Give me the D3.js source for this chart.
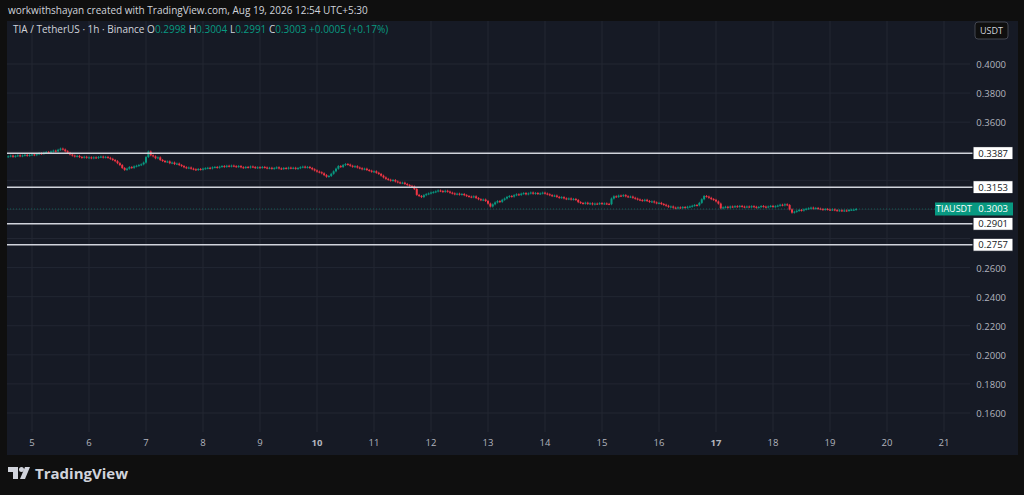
<!DOCTYPE html>
<html><head><meta charset="utf-8">
<script src="https://cdn.jsdelivr.net/npm/d3@7"></script>
<style>
body{margin:0;background:#0f0f0f;font-family:"Open Sans",sans-serif;}
</style></head><body>
<svg id="c" width="1024" height="495"></svg>
<script>
// hourly closes, Aug 4 14:00 -> Aug 19 12:00 (each row = 12 hours)
var closes = [
0.3365,0.3370,0.3362,0.3368,0.3372,0.3366,0.3371,0.3375,0.3369,0.3374,0.3378,0.3373,
0.3380,0.3386,0.3382,0.3390,0.3395,0.3391,0.3398,0.3404,0.3399,0.3410,0.3418,0.3412,
0.3400,0.3389,0.3378,0.3370,0.3364,0.3368,0.3360,0.3356,0.3362,0.3355,0.3358,0.3352,
0.3358,0.3354,0.3360,0.3363,0.3357,0.3361,0.3355,0.3348,0.3340,0.3332,0.3318,0.3305,
0.3285,0.3272,0.3280,0.3291,0.3286,0.3296,0.3300,0.3305,0.3310,0.3322,0.3360,0.3398,
0.3372,0.3365,0.3352,0.3358,0.3340,0.3333,0.3326,0.3330,0.3318,0.3322,0.3312,0.3315,
0.3305,0.3298,0.3290,0.3284,0.3288,0.3280,0.3276,0.3271,0.3278,0.3274,0.3280,0.3283,
0.3286,0.3282,0.3289,0.3292,0.3287,0.3294,0.3298,0.3293,0.3300,0.3296,0.3301,0.3297,
0.3293,0.3298,0.3290,0.3286,0.3292,0.3288,0.3295,0.3291,0.3285,0.3290,0.3287,0.3292,
0.3288,0.3283,0.3286,0.3280,0.3284,0.3289,0.3282,0.3278,0.3285,0.3281,0.3287,0.3283,
0.3286,0.3280,0.3284,0.3290,0.3294,0.3288,0.3292,0.3285,0.3276,0.3268,0.3260,0.3255,
0.3248,0.3236,0.3225,0.3230,0.3245,0.3262,0.3280,0.3298,0.3292,0.3305,0.3312,0.3308,
0.3300,0.3293,0.3297,0.3288,0.3283,0.3276,0.3280,0.3271,0.3266,0.3259,0.3262,0.3252,
0.3244,0.3232,0.3220,0.3210,0.3204,0.3198,0.3202,0.3192,0.3186,0.3181,0.3184,0.3175,
0.3168,0.3162,0.3158,0.3140,0.3100,0.3092,0.3085,0.3098,0.3105,0.3110,0.3116,0.3119,
0.3124,0.3130,0.3126,0.3121,0.3128,0.3122,0.3115,0.3110,0.3104,0.3108,0.3102,0.3106,
0.3098,0.3092,0.3088,0.3084,0.3090,0.3078,0.3070,0.3064,0.3068,0.3058,0.3040,0.3020,
0.3035,0.3048,0.3057,0.3052,0.3066,0.3075,0.3086,0.3092,0.3088,0.3098,0.3104,0.3100,
0.3108,0.3112,0.3104,0.3110,0.3116,0.3108,0.3113,0.3106,0.3110,0.3115,0.3109,0.3104,
0.3098,0.3092,0.3095,0.3086,0.3080,0.3084,0.3076,0.3071,0.3075,0.3068,0.3072,0.3065,
0.3050,0.3044,0.3040,0.3046,0.3038,0.3042,0.3035,0.3040,0.3037,0.3043,0.3039,0.3041,
0.3038,0.3036,0.3075,0.3090,0.3086,0.3095,0.3092,0.3098,0.3090,0.3085,0.3088,0.3080,
0.3074,0.3068,0.3064,0.3060,0.3066,0.3058,0.3052,0.3055,0.3048,0.3042,0.3045,0.3037,
0.3032,0.3025,0.3018,0.3020,0.3012,0.3008,0.3014,0.3010,0.3016,0.3012,0.3018,0.3020,
0.3025,0.3030,0.3028,0.3045,0.3070,0.3092,0.3088,0.3080,0.3071,0.3066,0.3055,0.3040,
0.3008,0.3014,0.3018,0.3012,0.3020,0.3016,0.3022,0.3018,0.3024,0.3019,0.3015,0.3020,
0.3016,0.3022,0.3018,0.3012,0.3017,0.3023,0.3019,0.3014,0.3020,0.3024,0.3018,0.3022,
0.3026,0.3032,0.3028,0.3035,0.3030,0.3000,0.2978,0.2984,0.2990,0.2996,0.2992,0.3000,
0.3004,0.3008,0.3012,0.3006,0.3010,0.3005,0.3002,0.2998,0.3003,0.2999,0.2996,0.3000,
0.2995,0.2991,0.2994,0.2989,0.2993,0.2990,0.2996,0.2998,0.2998,0.3003
];
var firstOpen = 0.3362;
var levels = [0.3387, 0.3153, 0.2901, 0.2757];
var priceTicks = [0.16,0.18,0.20,0.22,0.24,0.26,0.28,0.30,0.32,0.34,0.36,0.38,0.40];
var dayTicks = d3.range(5, 22);
var lastPrice = 0.3003;

var svg = d3.select("#c");
var L = 7, R = 970, T = 21, B = 432;
var up = "#089981", dn = "#f23645";

var t0 = Date.UTC(2026, 7, 4, 14);
var x = d3.scaleUtc().domain([Date.UTC(2026,7,5), Date.UTC(2026,7,21)]).range([32, 944]);
var y = d3.scaleLinear().domain([0.16, 0.40]).range([413, 64]);

svg.append("rect").attr("x", L).attr("y", T).attr("width", 1018 - L).attr("height", 455 - T).attr("fill", "#161a25");

svg.append("text").attr("x", 8).attr("y", 14).attr("fill", "#d1d4dc").attr("font-size", 10)
  .text("workwithshayan created with TradingView.com, Aug 19, 2026 12:54 UTC+5:30");

var g = svg.append("g");
g.selectAll(".hg").data(priceTicks).enter().append("line")
  .attr("x1", L).attr("x2", R).attr("y1", d => y(d)).attr("y2", d => y(d))
  .attr("stroke", "#222632").attr("stroke-width", 1);
g.selectAll(".vg").data(dayTicks).enter().append("line")
  .attr("x1", d => x(Date.UTC(2026,7,d))).attr("x2", d => x(Date.UTC(2026,7,d)))
  .attr("y1", T).attr("y2", B).attr("stroke", "#222632");

// price axis labels (those hidden behind level boxes are skipped)
var shown = priceTicks.filter(p => !levels.some(l => Math.abs(y(p) - y(l)) < 10));
svg.selectAll(".pl").data(shown).enter().append("text")
  .attr("x", 1006).attr("y", d => y(d) + 4).attr("text-anchor", "end")
  .attr("fill", "#b2b5be").attr("font-size", 9.5).text(d => d.toFixed(4));

// time axis labels
svg.selectAll(".tl").data(dayTicks).enter().append("text")
  .attr("x", d => x(Date.UTC(2026,7,d))).attr("y", 446).attr("text-anchor", "middle")
  .attr("fill", "#b2b5be").attr("font-size", 9.5)
  .attr("font-weight", d => (d == 10 || d == 17) ? "bold" : "normal").text(d => d);

// candles
var bars = closes.map(function(c, i) {
  var o = i ? closes[i - 1] : firstOpen;
  return {t: t0 + i * 3600e3, o: o, c: c, h: Math.max(o, c) + 0.0007, l: Math.min(o, c) - 0.0007};
});
var cg = svg.append("g");
cg.selectAll("line").data(bars).enter().append("line")
  .attr("x1", d => x(d.t)).attr("x2", d => x(d.t))
  .attr("y1", d => y(d.h)).attr("y2", d => y(d.l))
  .attr("stroke", d => d.c >= d.o ? up : dn).attr("stroke-width", 0.8);
cg.selectAll("rect").data(bars).enter().append("rect")
  .attr("x", d => x(d.t) - 1).attr("width", 2)
  .attr("y", d => y(Math.max(d.o, d.c)))
  .attr("height", d => Math.max(1, Math.abs(y(d.o) - y(d.c))))
  .attr("fill", d => d.c >= d.o ? up : dn);

// current price line
svg.append("line").attr("x1", L).attr("x2", R).attr("y1", y(lastPrice)).attr("y2", y(lastPrice))
  .attr("stroke", up).attr("stroke-dasharray", "1,2").attr("opacity", 0.5);

// horizontal levels
svg.selectAll(".lv").data(levels).enter().append("line")
  .attr("x1", L).attr("x2", 973).attr("y1", d => y(d)).attr("y2", d => y(d))
  .attr("stroke", "#d1d4dc").attr("stroke-width", 1.5);
var lb = svg.selectAll(".lb").data(levels).enter().append("g");
lb.append("rect").attr("x", 973).attr("y", d => y(d) - 6.5).attr("width", 40).attr("height", 13)
  .attr("fill", "#ffffff").attr("stroke", "#131722");
lb.append("text").attr("x", 1008).attr("y", d => y(d) + 3.5).attr("text-anchor", "end")
  .attr("fill", "#131722").attr("font-size", 9.5).text(d => d.toFixed(4));

// last price labels
svg.append("rect").attr("x", 935).attr("y", y(lastPrice) - 6.5).attr("width", 38).attr("height", 13).attr("fill", up);
svg.append("text").attr("x", 954).attr("y", y(lastPrice) + 3.5).attr("text-anchor", "middle")
  .attr("fill", "#fff").attr("font-size", 9).text("TIAUSDT");
svg.append("rect").attr("x", 973).attr("y", y(lastPrice) - 6.5).attr("width", 40).attr("height", 13).attr("fill", up);
svg.append("text").attr("x", 1008).attr("y", y(lastPrice) + 3.5).attr("text-anchor", "end")
  .attr("fill", "#fff").attr("font-size", 9.5).text(lastPrice.toFixed(4));

// legend
var lg = svg.append("text").attr("x", 13).attr("y", 33).attr("font-size", 10).attr("fill", "#d1d4dc");
lg.append("tspan").text("TIA / TetherUS · 1h · Binance  O");
lg.append("tspan").attr("fill", up).text("0.2998");
lg.append("tspan").text("  H");
lg.append("tspan").attr("fill", up).text("0.3004");
lg.append("tspan").text("  L");
lg.append("tspan").attr("fill", up).text("0.2991");
lg.append("tspan").text("  C");
lg.append("tspan").attr("fill", up).text("0.3003  +0.0005 (+0.17%)");

// USDT button
svg.append("rect").attr("x", 975).attr("y", 22).attr("width", 33).attr("height", 17).attr("rx", 3)
  .attr("fill", "#0f0f0f").attr("stroke", "#434651");
svg.append("text").attr("x", 991.5).attr("y", 34).attr("text-anchor", "middle")
  .attr("fill", "#d1d4dc").attr("font-size", 9).text("USDT");

// logo
var logo = svg.append("g").attr("fill", "#d1d4dc");
logo.append("path").attr("d", "M8,467 h10 v12 h-5 v-7 h-5 z");
logo.append("circle").attr("cx", 21.5).attr("cy", 469.5).attr("r", 2.5);
logo.append("path").attr("d", "M25,467 h5 l-5,12 h-5 z");
svg.append("text").attr("x", 35).attr("y", 479).attr("fill", "#d1d4dc").attr("font-size", 15).attr("font-weight", "bold").text("TradingView");
</script></body></html>
